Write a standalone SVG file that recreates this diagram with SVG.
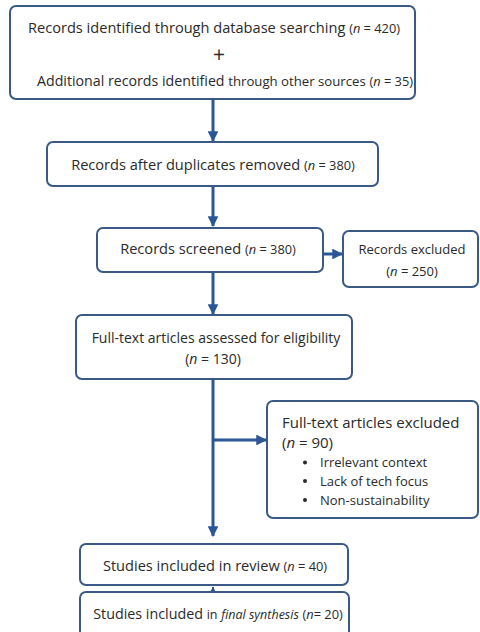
<svg xmlns="http://www.w3.org/2000/svg" width="480" height="632" viewBox="0 0 480 632">
<defs>
<style>
.box{fill:#fff;stroke:#3a5a85;stroke-width:2}
.t{font-family:"Open Sans","Liberation Sans",sans-serif;font-size:15px;fill:#2a2a2a}
.s{font-family:"Open Sans","Liberation Sans",sans-serif;font-size:13px;fill:#2a2a2a}
.m{font-size:14.6px}
.n{font-size:12.8px}
.i{font-style:italic}
.c{stroke:#2b5797;stroke-width:3;fill:none}
.b{fill:#2a2a2a}
</style>
<marker id="ah" viewBox="0 0 10 10" refX="9" refY="5" markerWidth="3.6" markerHeight="3.6" orient="auto" markerUnits="strokeWidth">
<path d="M0,0 L10,5 L0,10 z" fill="#2b5797"/>
</marker>
<marker id="ahs" viewBox="0 0 10 10" refX="9" refY="5" markerWidth="3" markerHeight="3" orient="auto" markerUnits="strokeWidth">
<path d="M0,0 L10,5 L0,10 z" fill="#2b5797"/>
</marker>
</defs>
<rect width="480" height="632" fill="#fff"/>
<g id="connectors">
<line class="c" x1="213" y1="100" x2="213" y2="141" marker-end="url(#ah)"/>
<line class="c" x1="213" y1="187" x2="213" y2="226" marker-end="url(#ah)"/>
<line class="c" x1="324" y1="254" x2="342" y2="254" marker-end="url(#ah)"/>
<line class="c" x1="213" y1="273" x2="213" y2="314" marker-end="url(#ah)"/>
<line class="c" x1="213" y1="380" x2="213" y2="536" marker-end="url(#ah)"/>
<line class="c" x1="213" y1="440" x2="266" y2="440" marker-end="url(#ah)"/>
<line class="c" x1="213" y1="592" x2="213" y2="587" style="stroke-width:2" marker-end="url(#ahs)"/>
</g>
<g id="n1">
<rect class="box" x="10" y="6" width="405" height="93" rx="6"/>
<text class="t m" x="214" y="33" text-anchor="middle">Records identified through database searching <tspan class="n">(<tspan class="i">n</tspan> = 420)</tspan></text>
<text class="t" x="219" y="62" text-anchor="middle" style="font-size:21px">+</text>
<text class="t" x="225" y="86" text-anchor="middle" style="font-size:14.2px">Additional records identified <tspan style="font-size:13.2px">through other sources</tspan> <tspan class="n">(<tspan class="i">n</tspan> = 35)</tspan></text>
</g>
<g id="n2">
<rect class="box" x="47" y="142" width="331" height="44" rx="6"/>
<text class="t m" x="213" y="170" text-anchor="middle">Records after duplicates removed <tspan class="n">(<tspan class="i">n</tspan> = 380)</tspan></text>
</g>
<g id="n3">
<rect class="box" x="97" y="228" width="226" height="44" rx="6"/>
<text class="t m" x="208" y="254" text-anchor="middle">Records screened <tspan class="n">(<tspan class="i">n</tspan> = 380)</tspan></text>
</g>
<g id="n4">
<rect class="box" x="343" y="231" width="135" height="56" rx="6"/>
<text class="s" x="412" y="254" text-anchor="middle">Records excluded</text>
<text class="s" x="412" y="276" text-anchor="middle">(<tspan class="i">n</tspan> = 250)</text>
</g>
<g id="n5">
<rect class="box" x="76" y="315" width="276" height="64" rx="6"/>
<text class="t" x="216" y="343" text-anchor="middle" style="font-size:14px">Full-text articles assessed for eligibility</text>
<text class="t" x="213" y="364" text-anchor="middle" style="font-size:14px">(<tspan class="i">n</tspan> = 130)</text>
</g>
<g id="n6">
<rect class="box" x="267" y="401" width="211" height="117" rx="6"/>
<text class="t" x="282" y="428">Full-text articles excluded</text>
<text class="t" x="282" y="448">(<tspan class="i">n</tspan> = 90)</text>
<circle class="b" cx="305" cy="462.5" r="2"/><text class="s" x="320" y="467">Irrelevant context</text>
<circle class="b" cx="305" cy="481" r="2"/><text class="s" x="320" y="486">Lack of tech focus</text>
<circle class="b" cx="305" cy="500" r="2"/><text class="s" x="320" y="505">Non-sustainability</text>
</g>
<g id="n7">
<rect class="box" x="80" y="544" width="268" height="41" rx="6"/>
<text class="t m" x="215" y="571" text-anchor="middle">Studies included in review <tspan class="n">(<tspan class="i">n</tspan> = 40)</tspan></text>
</g>
<g id="n8">
<rect class="box" x="80" y="592" width="269" height="48" rx="6"/>
<text class="t" x="218" y="619" text-anchor="middle" style="font-size:14.3px">Studies included <tspan style="font-size:12.5px">in</tspan> <tspan class="i" style="font-size:12.5px">final synthesis</tspan> <tspan class="n">(<tspan class="i">n</tspan>= 20)</tspan></text>
</g>
</svg>
